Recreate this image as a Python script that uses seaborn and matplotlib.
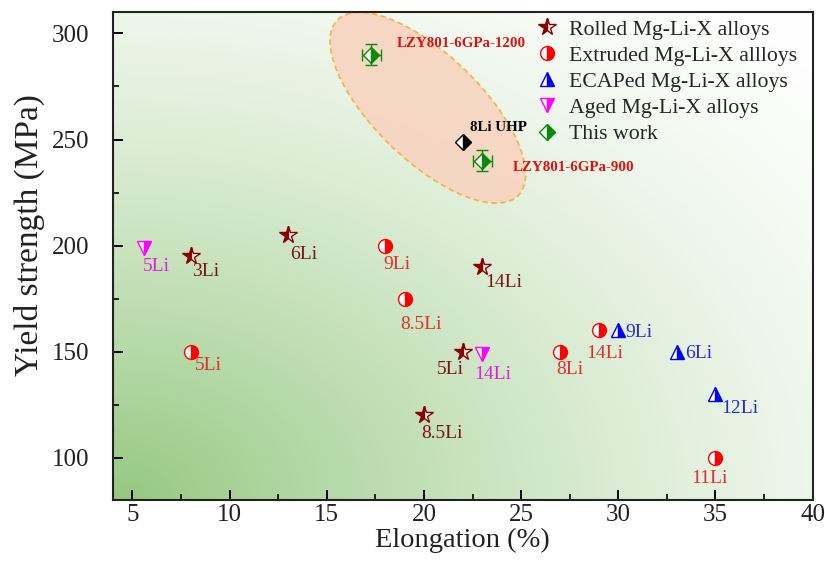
import numpy as np
import pandas as pd
import matplotlib
matplotlib.use("Agg")
import matplotlib.pyplot as plt
import matplotlib.transforms as mtransforms
from matplotlib.patches import Ellipse
from matplotlib.lines import Line2D
import seaborn as sns

# ---------------- data ----------------
rolled_x = [8, 13, 23, 22, 20]
rolled_y = [195, 205, 190, 150, 120]
rolled_lbl = ["3Li", "6Li", "14Li", "5Li", "8.5Li"]

extr_x = [8, 18, 19, 27, 29, 35]
extr_y = [150, 200, 175, 150, 160, 100]
extr_lbl = ["5Li", "9Li", "8.5Li", "8Li", "14Li", "11Li"]

ecap_x = [30, 33, 35]
ecap_y = [160, 150, 130]
ecap_lbl = ["9Li", "6Li", "12Li"]

aged_x = [5.6, 23]
aged_y = [199, 149]
aged_lbl = ["5Li", "14Li"]

work_x = [17.3, 23]
work_y = [290, 240]
work_xerr = [0.5, 0.5]
work_yerr = [5, 5]
work_lbl = ["LZY801-6GPa-1200", "LZY801-6GPa-900"]

uhp_x = [22]
uhp_y = [249]
uhp_lbl = ["8Li UHP"]

# ---------------- style ----------------
sns.set_theme(style="ticks")
plt.rcParams["font.family"] = ["Liberation Serif", "DejaVu Serif"]
plt.rcParams["mathtext.fontset"] = "stix"

fig = plt.figure(figsize=(8.25, 5.81), dpi=100)
ax = fig.add_axes([0.137, 0.139, 0.848, 0.840])
XL, YL = (4, 40), (80, 310)
ax.set_xlim(*XL)
ax.set_ylim(*YL)

# gradient background (green bottom-left -> white top-right)
n = 300
u = np.linspace(0, 1, n)
v = np.linspace(0, 1, n)
U, V = np.meshgrid(u, v)
d = np.sqrt(U ** 2 + V ** 2) / np.sqrt(2)
s = np.clip(1 - d, 0, 1) ** 1.5
green = np.array([148, 200, 128]) / 255.0
img = 1 - s[..., None] * (1 - green[None, None, :])
ax.imshow(img, extent=(XL[0], XL[1], YL[0], YL[1]), origin="lower",
          aspect="auto", zorder=0, interpolation="bilinear")

# highlighted ellipse (drawn in pixel space around a data centre)
ell_tr = mtransforms.ScaledTranslation(20.2, 265, ax.transData)
ell = Ellipse((0, 0), 2 * 126, 2 * 53, angle=-44, transform=ell_tr,
              facecolor="#f8d4c0", edgecolor="#f0b43a", linestyle=(0, (3, 2)),
              linewidth=1.3, alpha=0.9, zorder=1)
ax.add_patch(ell)


def half_points(x, y, marker, color, fill, ms, alt="white"):
    df = pd.DataFrame({"x": x, "y": y})
    sns.lineplot(data=df, x="x", y="y", ax=ax, estimator=None, sort=False,
                 errorbar=None, linestyle="none", marker=marker, markersize=ms,
                 fillstyle=fill, markerfacecolor=color, markerfacecoloralt=alt,
                 markeredgecolor=color, markeredgewidth=1.0, color=color,
                 zorder=4)


c_rolled, c_rolled_t = "#8b0000", "#7a1515"
c_extr, c_extr_t = "#ff0000", "#e03030"
c_ecap, c_ecap_t = "#0000ff", "#2a2ad0"
c_aged, c_aged_t = "#ff00ff", "#dd22dd"
c_work = "#0a8a0a"

half_points(rolled_x, rolled_y, "*", c_rolled, "left", 13)
half_points(extr_x, extr_y, "o", c_extr, "right", 10)
half_points(ecap_x, ecap_y, "^", c_ecap, "right", 10)
half_points(aged_x, aged_y, "v", c_aged, "right", 10)

ax.errorbar(work_x, work_y, xerr=work_xerr, yerr=work_yerr, fmt="none",
            ecolor=c_work, elinewidth=1.0, capsize=4, capthick=1.0, zorder=3)
half_points(work_x, work_y, "D", c_work, "right", 8)
half_points(uhp_x, uhp_y, "D", "black", "right", 8)

# ---------------- labels ----------------
def labels(xs, ys, texts, offs, color, **kw):
    for x, y, t, o in zip(xs, ys, texts, offs):
        ax.annotate(t, (x, y), xytext=o, textcoords="offset pixels",
                    color=color, va="center", zorder=5, **kw)


labels(rolled_x, rolled_y, rolled_lbl,
       [(15, -15), (16, -19), (21, -16), (-12, -18), (18, -18)],
       c_rolled_t, ha="center", fontsize=14)
labels(extr_x, extr_y, extr_lbl,
       [(18, -14), (12, -19), (16, -26), (10, -18), (6, -23), (-6, -21)],
       c_extr_t, ha="center", fontsize=14)
labels(ecap_x, ecap_y, ecap_lbl,
       [(21, -2), (22, -2), (24, -14)], c_ecap_t, ha="center", fontsize=14)
labels(aged_x, aged_y, aged_lbl,
       [(12, -19), (10, -21)], c_aged_t, ha="center", fontsize=14)
labels(work_x, work_y, work_lbl, [(25, 11), (31, -7)], "#e01010",
       ha="left", fontsize=10.8, fontweight="bold")
labels(uhp_x, uhp_y, uhp_lbl, [(7, 14)], "black",
       ha="left", fontsize=10.8, fontweight="bold")

# ---------------- axes ----------------
ax.set_xticks(np.arange(5, 41, 5))
ax.set_yticks(np.arange(100, 301, 50))
ax.set_xticks(np.arange(7.5, 40, 5), minor=True)
ax.set_yticks(np.arange(125, 310, 50), minor=True)
ax.tick_params(which="major", direction="in", length=7, width=1.4,
               labelsize=18, color="black", labelcolor="#222222")
ax.tick_params(axis="x", which="major", pad=3)
ax.tick_params(axis="y", which="major", pad=17)
ax.tick_params(which="minor", direction="in", length=4, width=1.2,
               color="black")
ax.tick_params(top=False, right=False, which="both")
for sp in ax.spines.values():
    sp.set_linewidth(1.5)
    sp.set_color("#222222")
    sp.set_visible(True)
ax.set_xlabel("Elongation (%)", fontsize=20.5, color="#222222", labelpad=1)
ax.set_ylabel("Yield strength (MPa)", fontsize=24, color="#222222")
ax.yaxis.set_label_coords(-0.097, 0.543)

# ---------------- legend ----------------
def handle(marker, color, fill, ms):
    return Line2D([], [], linestyle="none", marker=marker, markersize=ms,
                  fillstyle=fill, markerfacecolor=color,
                  markerfacecoloralt="white", markeredgecolor=color,
                  markeredgewidth=1.0)


handles = [handle("*", c_rolled, "left", 13), handle("o", c_extr, "right", 10),
           handle("^", c_ecap, "right", 10), handle("v", c_aged, "right", 10),
           handle("D", c_work, "right", 8)]
names = ["Rolled Mg-Li-X alloys", "Extruded Mg-Li-X allloys",
         "ECAPed Mg-Li-X alloys", "Aged Mg-Li-X alloys", "This work"]
ax.legend(handles, names, loc="upper right", frameon=False, fontsize=15.7,
          handlelength=1.0, handletextpad=0.55, labelspacing=0.27,
          borderaxespad=0.2, bbox_to_anchor=(1.0 - 2 / 700, 1.0 + 6 / 488))

fig.savefig("out.png", dpi=100)
